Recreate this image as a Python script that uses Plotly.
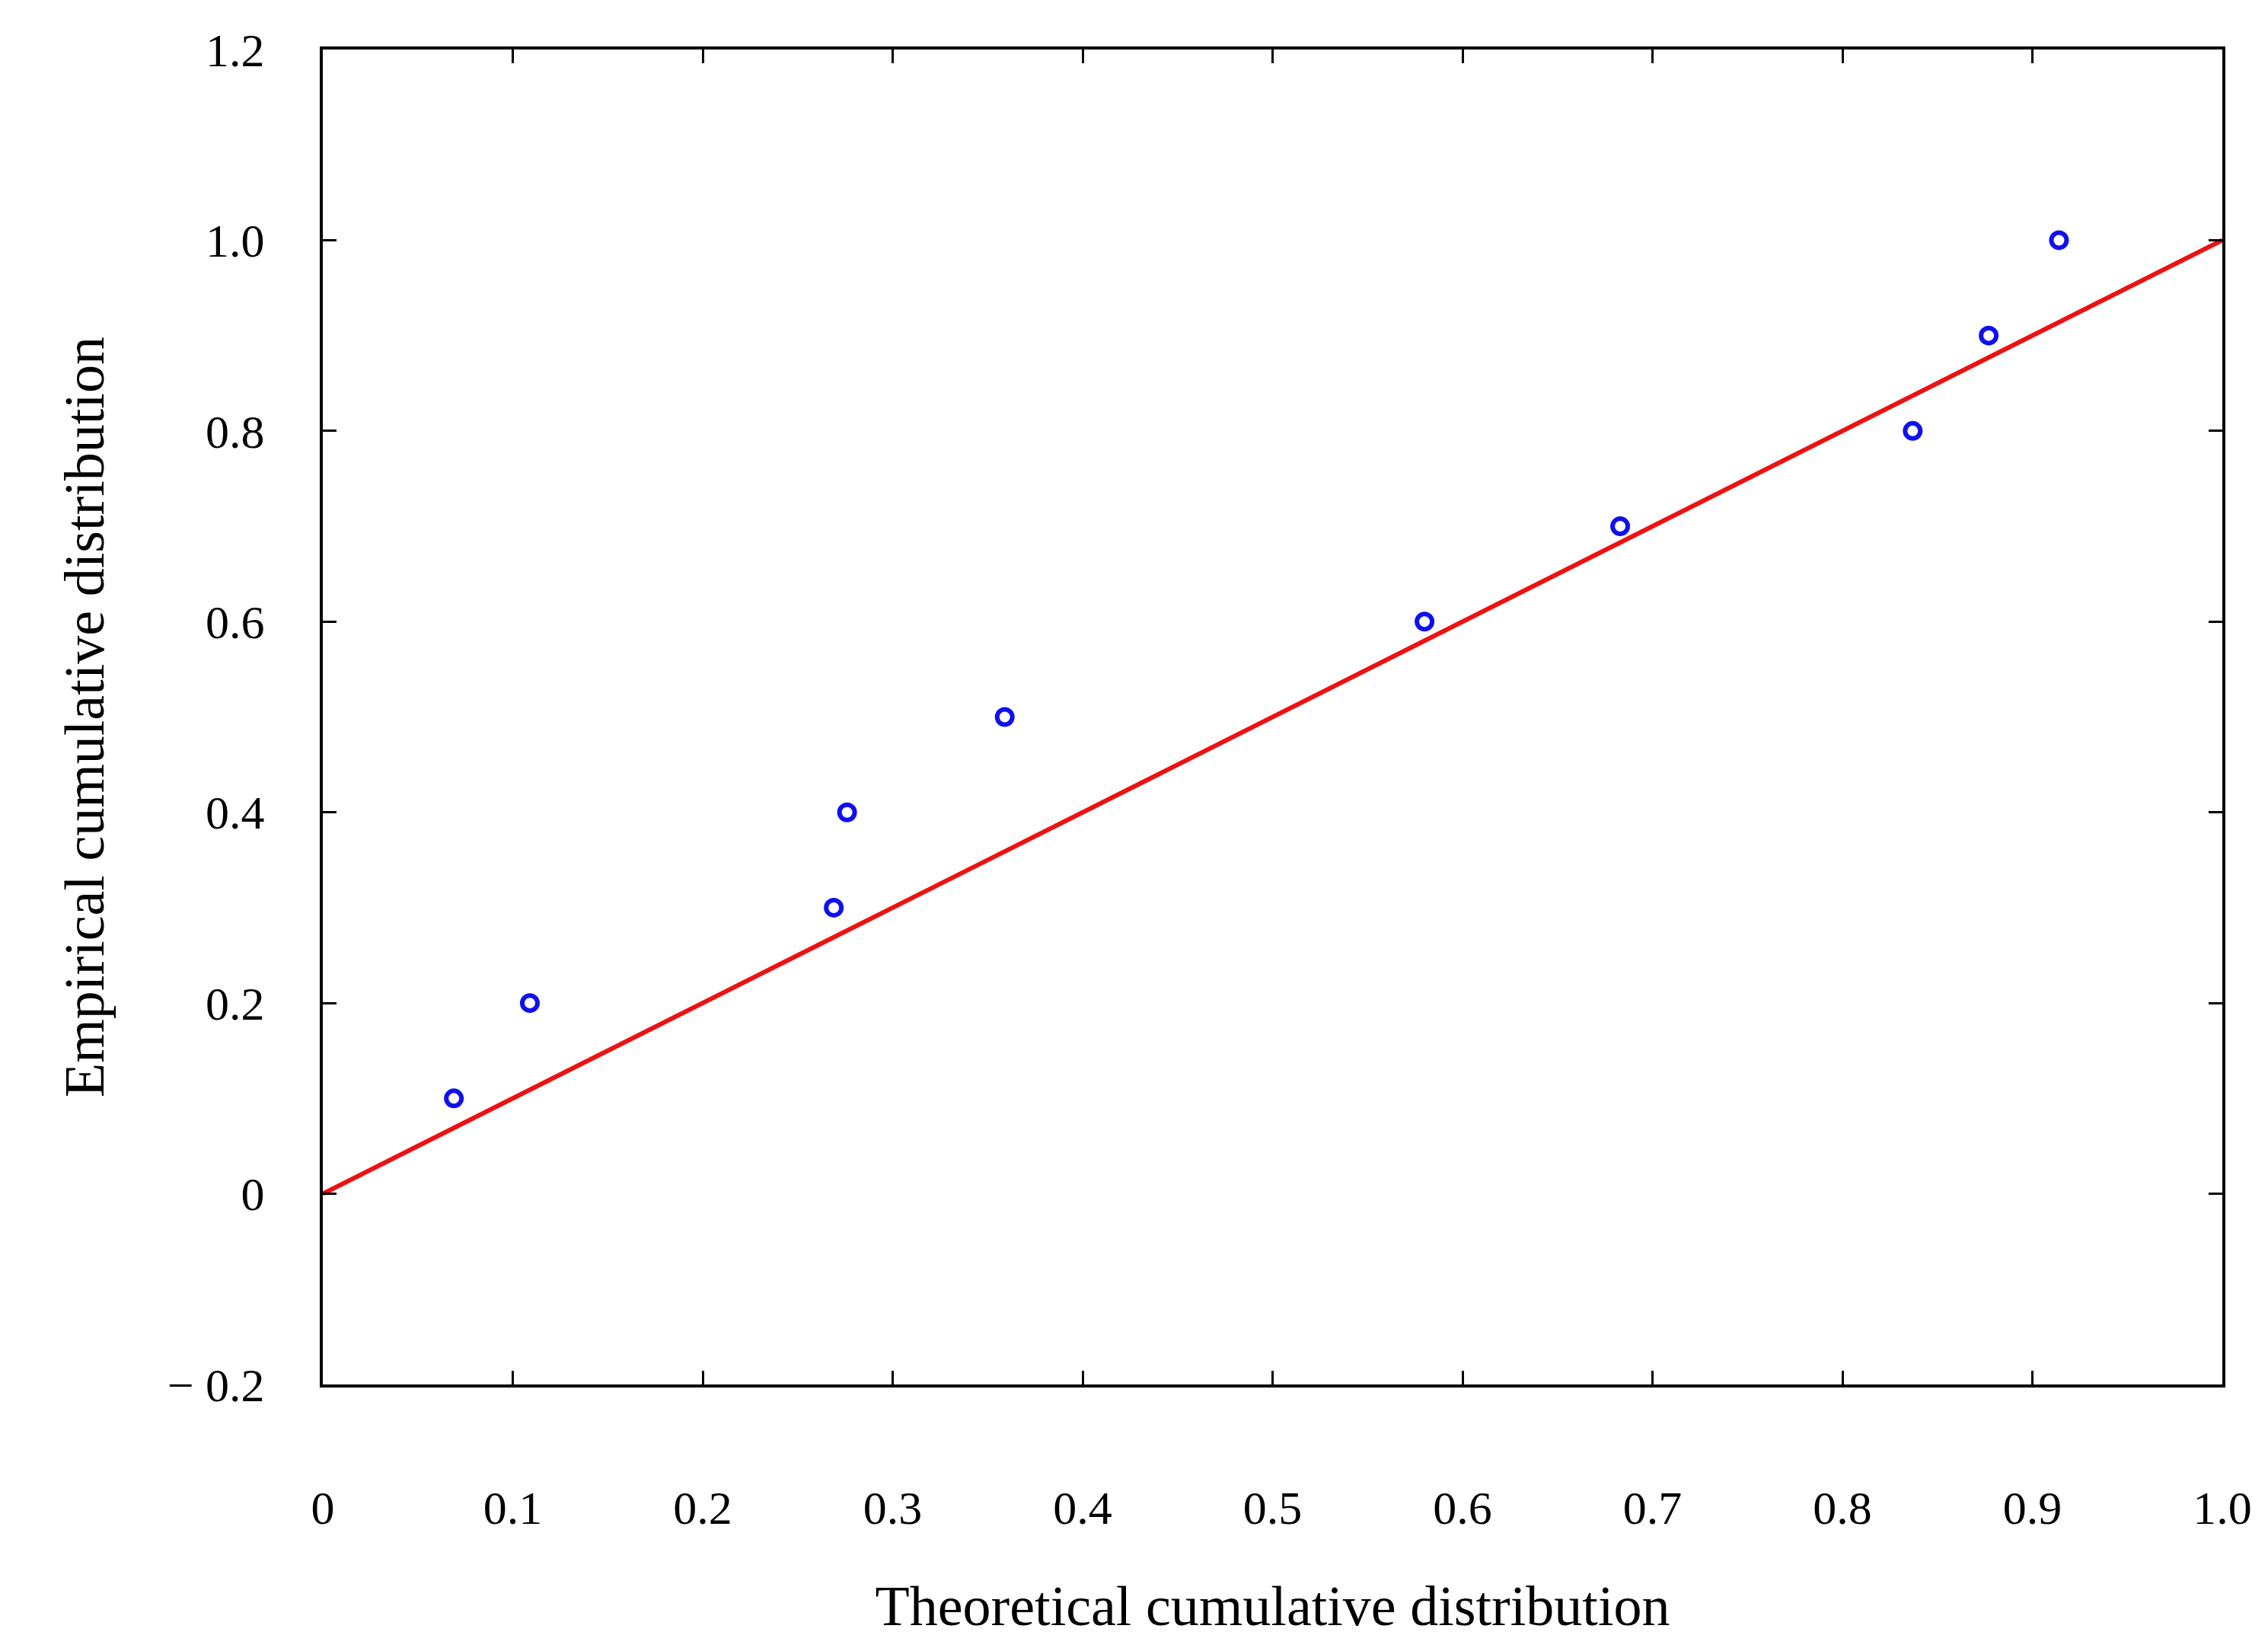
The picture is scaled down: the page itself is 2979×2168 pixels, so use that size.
import plotly.graph_objects as go

theo = [0.069, 0.109, 0.269, 0.276, 0.359, 0.580, 0.683, 0.837, 0.877, 0.914]
emp = [0.1, 0.2, 0.3, 0.4, 0.5, 0.6, 0.7, 0.8, 0.9, 1.0]
line_x = [0, 1]
line_y = [0, 1]
xticks = [0, 0.1, 0.2, 0.3, 0.4, 0.5, 0.6, 0.7, 0.8, 0.9, 1.0]
xlabels = ["0", "0.1", "0.2", "0.3", "0.4", "0.5", "0.6", "0.7", "0.8", "0.9", "1.0"]
yticks = [-0.2, 0, 0.2, 0.4, 0.6, 0.8, 1.0, 1.2]
ylabels = ["\u2212 0.2", "0", "0.2", "0.4", "0.6", "0.8", "1.0", "1.2"]

fig = go.Figure()
fig.add_trace(go.Scatter(x=line_x, y=line_y, mode="lines", line=dict(color="#ee1111", width=6)))
fig.add_trace(go.Scatter(x=theo, y=emp, mode="markers",
                         marker=dict(symbol="circle-open", size=20, color="#1010ee", line=dict(width=6))))
font = dict(family="Liberation Serif, DejaVu Serif, serif", size=62, color="black")
fig.update_layout(
    width=2979, height=2168, showlegend=False, plot_bgcolor="white", paper_bgcolor="white",
    margin=dict(l=416, r=68, t=57, b=358), font=font,
    xaxis=dict(range=[0, 1], tickvals=xticks, ticktext=xlabels, showgrid=False, zeroline=False,
               showline=True, linecolor="black", linewidth=4, mirror="ticks", ticks="inside",
               ticklen=18, tickwidth=3, tickcolor="black", ticklabelstandoff=105,
               title=dict(text="Theoretical cumulative distribution", standoff=70)),
    yaxis=dict(range=[-0.2, 1.2], tickvals=yticks, ticktext=ylabels, showgrid=False, zeroline=False,
               showline=True, linecolor="black", linewidth=4, mirror="ticks", ticks="inside",
               ticklen=18, tickwidth=3, tickcolor="black", ticklabelstandoff=60,
               title=dict(text="Empirical cumulative distribution", standoff=60)),
)
fig.write_html("out.html")
